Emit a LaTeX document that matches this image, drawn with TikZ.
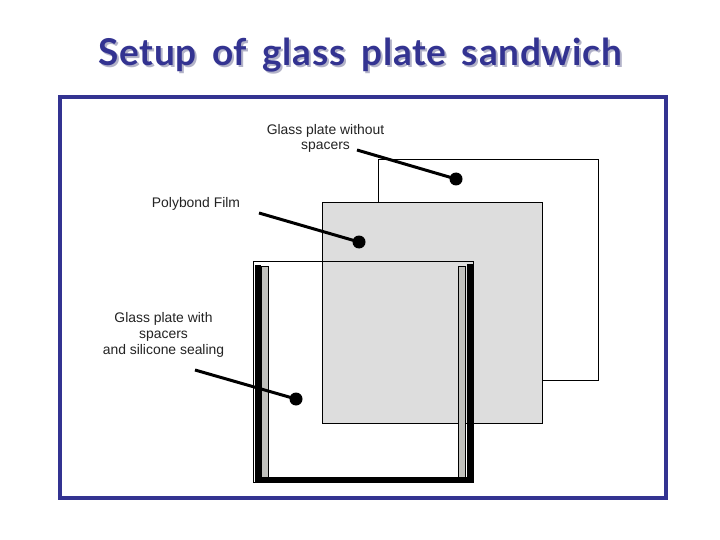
\documentclass[tikz,border=0pt]{standalone}
\usepackage{fontspec}
\setmainfont{Liberation Sans}
\newfontfamily\titlefont[LetterSpace=2,WordSpace=1.6]{Lato}
\definecolor{navy}{RGB}{51,51,145}
\definecolor{shade}{RGB}{178,178,200}
\definecolor{filmgray}{RGB}{221,221,221}
\definecolor{spacergray}{RGB}{192,192,188}
\definecolor{labelgray}{RGB}{35,35,35}
\tikzset{
  plate/.style={draw=black,line width=0.8pt,fill=white},
  film/.style={draw=black,line width=0.7pt,fill=filmgray},
  spacer/.style={draw=black,line width=1pt,fill=spacergray},
  seal/.style={draw=none,fill=black},
  leader/.style={draw=black,line width=3pt},
  dot/.style={circle,fill=black,inner sep=0pt,minimum size=13pt},
  lab/.style={align=center,font=\fontsize{13.9}{15.6}\selectfont,text=labelgray,inner sep=0pt},
  ttl/.style={font=\titlefont\bfseries\fontsize{37}{42}\selectfont,inner sep=0pt}
}
\begin{document}
\begin{tikzpicture}[x=1pt,y=-1pt]
\useasboundingbox (0,0) rectangle (720,540);
\fill[white] (0,0) rectangle (720,540);
% title
\node[ttl,text=shade] (titleshadow) at (362,57) {Setup of glass plate sandwich};
\node[ttl,text=navy] (title) at (360,55) {Setup of glass plate sandwich};
% frame
\draw[navy,line width=4pt] (60,97) rectangle (666,498);
% plates
\draw[plate] (378.5,159.5) rectangle (598.5,380.5);
\draw[plate] (253.5,261.5) rectangle (473.5,482.5);
\draw[film] (322.5,202.5) rectangle (542.5,423.5);
\draw[plate,fill=none] (253.5,261.5) rectangle (473.5,482.5);
% sealing
\fill[seal] (255,265) rectangle (261,481.5);
\fill[seal] (466.5,264) rectangle (473,481.5);
\fill[seal] (255,477) rectangle (473,481.5);
% spacers
\draw[spacer] (261,266.5) rectangle (268.5,477);
\draw[spacer] (458.8,266.5) rectangle (465.8,477);
% labels
\node[lab] (l1) at (325.5,138.5) {Glass plate without\\spacers};
\node[lab] (l2) at (196,204) {Polybond Film};
\node[lab] (l3) at (163.5,335) {Glass plate with\\spacers\\and silicone sealing};
% leaders
\node[dot] (d1) at (456,179) {};
\node[dot] (d2) at (359,242) {};
\node[dot] (d3) at (296,399) {};
\coordinate (s1) at (357,150);
\coordinate (s2) at (259,213);
\coordinate (s3) at (195,370);
\draw[leader] (s1) -- (d1.center);
\draw[leader] (s2) -- (d2.center);
\draw[leader] (s3) -- (d3.center);
\end{tikzpicture}
\end{document}
